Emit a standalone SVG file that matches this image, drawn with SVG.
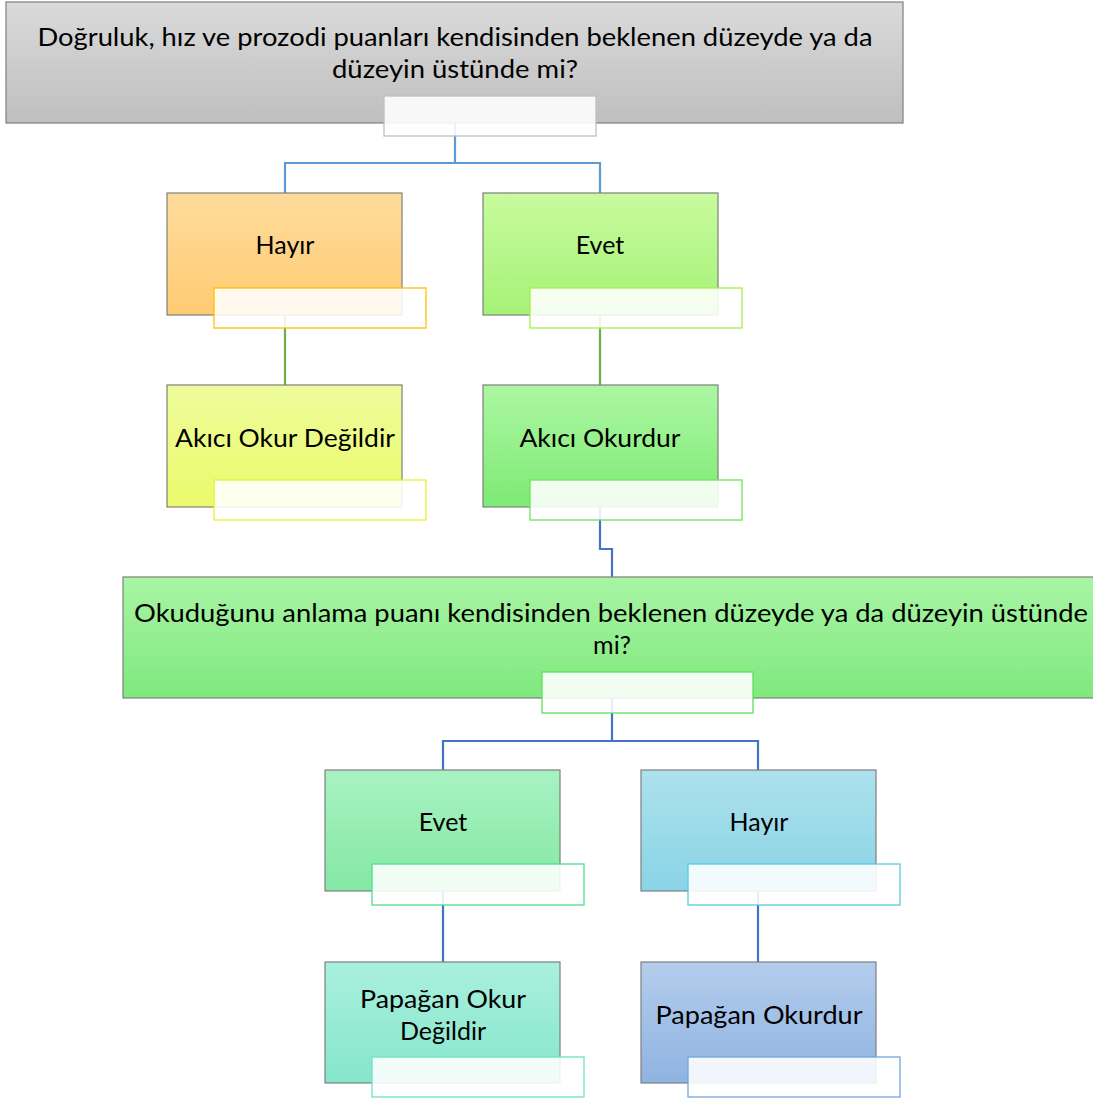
<svg xmlns="http://www.w3.org/2000/svg" width="1093" height="1099" viewBox="0 0 1093 1099">
<style>
.box{stroke:#7f7f7f;stroke-width:1.2}
.lbl{fill:#ffffff;fill-opacity:0.88;stroke-width:1.3}
.t{font-family:Lato,"Liberation Sans",sans-serif;font-size:25px;fill:#000;text-anchor:middle}
.c{fill:none;stroke-width:2.2}
</style>
<defs>
<linearGradient id="gGray" x1="0" y1="0" x2="0" y2="1"><stop offset="0" stop-color="#dadada"/><stop offset="1" stop-color="#bfbfbf"/></linearGradient>
<linearGradient id="gOrange" x1="0" y1="0" x2="0" y2="1"><stop offset="0" stop-color="#ffdc9c"/><stop offset="1" stop-color="#ffcb72"/></linearGradient>
<linearGradient id="gLime" x1="0" y1="0" x2="0" y2="1"><stop offset="0" stop-color="#c8fb9e"/><stop offset="1" stop-color="#a5f276"/></linearGradient>
<linearGradient id="gYellow" x1="0" y1="0" x2="0" y2="1"><stop offset="0" stop-color="#eefc9c"/><stop offset="1" stop-color="#ebfa6a"/></linearGradient>
<linearGradient id="gGreen" x1="0" y1="0" x2="0" y2="1"><stop offset="0" stop-color="#acf7a2"/><stop offset="1" stop-color="#7eea74"/></linearGradient>
<linearGradient id="gBig" x1="0" y1="0" x2="0" y2="1"><stop offset="0" stop-color="#a8f5a4"/><stop offset="1" stop-color="#80e87e"/></linearGradient>
<linearGradient id="gMint" x1="0" y1="0" x2="0" y2="1"><stop offset="0" stop-color="#a8f2c2"/><stop offset="1" stop-color="#84e8a4"/></linearGradient>
<linearGradient id="gCyan" x1="0" y1="0" x2="0" y2="1"><stop offset="0" stop-color="#ade1ed"/><stop offset="1" stop-color="#89d4e6"/></linearGradient>
<linearGradient id="gTeal" x1="0" y1="0" x2="0" y2="1"><stop offset="0" stop-color="#aaf0de"/><stop offset="1" stop-color="#84e6ca"/></linearGradient>
<linearGradient id="gBlue" x1="0" y1="0" x2="0" y2="1"><stop offset="0" stop-color="#b3cdec"/><stop offset="1" stop-color="#8fb3e1"/></linearGradient>
</defs>
<rect width="1093" height="1099" fill="#ffffff"/>
<g id="connectors">
<path class="c" stroke="#5b9bd5" d="M455 123 V163 M285 194 V163 H600 V194"/>
<path class="c" stroke="#70ad47" d="M285 315 V386 M600 315 V386"/>
<path class="c" stroke="#4472c4" d="M600 507 V549 H612 V578"/>
<path class="c" stroke="#4472c4" d="M612 698 V741 M443 771 V741 H758 V771"/>
<path class="c" stroke="#4472c4" d="M443 891 V963 M758 891 V963"/>
</g>
<g id="n1">
<rect class="box" x="6" y="2" width="897" height="121" fill="url(#gGray)"/>
<text class="t" x="455" y="46" textLength="835" lengthAdjust="spacingAndGlyphs">Doğruluk, hız ve prozodi puanları kendisinden beklenen düzeyde ya da</text>
<text class="t" x="455" y="78" textLength="246" lengthAdjust="spacingAndGlyphs">düzeyin üstünde mi?</text>
<rect class="lbl" x="384" y="96" width="212" height="40" stroke="#bfbfbf"/>
</g>
<g id="n2">
<rect class="box" x="167" y="193" width="235" height="122" fill="url(#gOrange)"/>
<text class="t" x="285" y="254">Hayır</text>
<rect class="lbl" x="214" y="288" width="212" height="40" stroke="#ffc000"/>
</g>
<g id="n3">
<rect class="box" x="483" y="193" width="235" height="122" fill="url(#gLime)"/>
<text class="t" x="600" y="254">Evet</text>
<rect class="lbl" x="530" y="288" width="212" height="40" stroke="#a6f04c"/>
</g>
<g id="n4">
<rect class="box" x="167" y="385" width="235" height="122" fill="url(#gYellow)"/>
<text class="t" x="285" y="447" textLength="220" lengthAdjust="spacingAndGlyphs">Akıcı Okur Değildir</text>
<rect class="lbl" x="214" y="480" width="212" height="40" stroke="#e6f23a"/>
</g>
<g id="n5">
<rect class="box" x="483" y="385" width="235" height="122" fill="url(#gGreen)"/>
<text class="t" x="600" y="447" textLength="161" lengthAdjust="spacingAndGlyphs">Akıcı Okurdur</text>
<rect class="lbl" x="530" y="480" width="212" height="40" stroke="#6fe45a"/>
</g>
<g id="n6">
<rect class="box" x="123" y="577" width="980" height="121" fill="url(#gBig)"/>
<text class="t" x="611" y="622" textLength="954" lengthAdjust="spacingAndGlyphs">Okuduğunu anlama puanı kendisinden beklenen düzeyde ya da düzeyin üstünde</text>
<text class="t" x="612" y="654">mi?</text>
<rect class="lbl" x="542" y="672" width="211" height="41" stroke="#5ee05e"/>
</g>
<g id="n7">
<rect class="box" x="325" y="770" width="235" height="121" fill="url(#gMint)"/>
<text class="t" x="443" y="831">Evet</text>
<rect class="lbl" x="372" y="864" width="212" height="41" stroke="#4ede8c"/>
</g>
<g id="n8">
<rect class="box" x="641" y="770" width="235" height="121" fill="url(#gCyan)"/>
<text class="t" x="759" y="831">Hayır</text>
<rect class="lbl" x="688" y="864" width="212" height="41" stroke="#56cbe2"/>
</g>
<g id="n9">
<rect class="box" x="325" y="962" width="235" height="121" fill="url(#gTeal)"/>
<text class="t" x="443" y="1008" textLength="166" lengthAdjust="spacingAndGlyphs">Papağan Okur</text>
<text class="t" x="443" y="1040">Değildir</text>
<rect class="lbl" x="372" y="1057" width="212" height="40" stroke="#6ee2c8"/>
</g>
<g id="n10">
<rect class="box" x="641" y="962" width="235" height="121" fill="url(#gBlue)"/>
<text class="t" x="759" y="1024" textLength="207" lengthAdjust="spacingAndGlyphs">Papağan Okurdur</text>
<rect class="lbl" x="688" y="1057" width="212" height="40" stroke="#6fa7e0"/>
</g>
</svg>
